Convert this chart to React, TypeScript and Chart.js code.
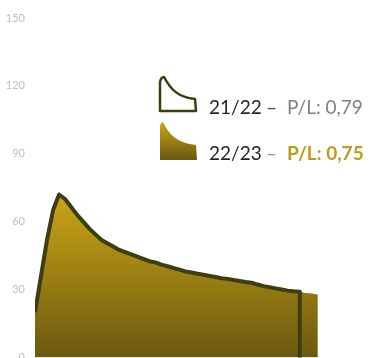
import React, { useEffect, useRef } from 'react';
import { Chart, registerables } from 'chart.js';
Chart.register(...registerables);

// ---- data ----
const yTickValues = [0, 30, 60, 90, 120, 150];
const seasonLabels = ['21/22', '22/23'];
const plLabels = ['P/L: 0,79', 'P/L: 0,75'];
// weekly values, week index = array index
const values2122 = [
  20, 36, 52, 65, 72, 70, 66.5, 63, 60, 57, 54.5, 52, 50.5, 49, 47.5, 46.5, 45.5, 44.5, 43.5, 42.5,
  42, 41, 40.3, 39.5, 38.8, 38, 37.5, 37, 36.5, 36, 35.5, 35, 34.7, 34.2, 33.8, 33.3, 33, 32.2, 31.5, 31,
  30.5, 30, 29.5, 29.2, 29,
];
const closingValue2122 = 0; // season closed: drops to zero on its last week
const values2223 = [
  20, 36, 52, 65, 72, 70, 66.5, 63, 60, 57, 54.5, 52, 50.5, 49, 47.5, 46.5, 45.5, 44.5, 43.5, 42.5,
  42, 41, 40.3, 39.5, 38.8, 38, 37.5, 37, 36.5, 36, 35.5, 35, 34.7, 34.2, 33.8, 33.3, 33, 32.2, 31.5, 31,
  30.5, 30, 29.5, 29.2, 29, 28.5, 28.2, 27.8,
];

const LINE_COLOR = '#3d3d0f';
const GOLD_TOP = '#cba516';
const GOLD_BOTTOM = '#6b5810';

function goldGradient(ctx: CanvasRenderingContext2D, top: number, bottom: number) {
  const g = ctx.createLinearGradient(0, top, 0, bottom);
  g.addColorStop(0, GOLD_TOP);
  g.addColorStop(1, GOLD_BOTTOM);
  return g;
}

const legendPlugin = {
  id: 'customLegend',
  afterDraw(chart: any) {
    const ctx: CanvasRenderingContext2D = chart.ctx;
    ctx.save();
    // icon 1: outline
    ctx.beginPath();
    ctx.moveTo(160, 111);
    ctx.lineTo(160, 82);
    ctx.quadraticCurveTo(161, 77, 164, 77);
    ctx.bezierCurveTo(171, 90, 178, 97, 195, 99);
    ctx.lineTo(196, 111);
    ctx.closePath();
    ctx.lineWidth = 2.5;
    ctx.strokeStyle = LINE_COLOR;
    ctx.lineJoin = 'round';
    ctx.stroke();
    // icon 2: gold filled
    ctx.beginPath();
    ctx.moveTo(160, 160);
    ctx.lineTo(160, 126);
    ctx.quadraticCurveTo(161, 122, 163, 122);
    ctx.bezierCurveTo(170, 136, 178, 143, 196, 145);
    ctx.lineTo(197, 160);
    ctx.closePath();
    ctx.fillStyle = goldGradient(ctx, 122, 160);
    ctx.fill();

    ctx.textBaseline = 'alphabetic';
    ctx.textAlign = 'left';
    const rows = [
      { y: 114, dash: '#385723', pl: '#808080', bold: false },
      { y: 160, dash: '#8e9c80', pl: '#bf9a1b', bold: true },
    ];
    rows.forEach((r, i) => {
      ctx.font = '19px Lato';
      ctx.fillStyle = '#262626';
      ctx.fillText(seasonLabels[i], 209, r.y);
      ctx.fillStyle = r.dash;
      ctx.fillText('–', 266, r.y);
      ctx.font = (r.bold ? 'bold ' : '') + '19px Lato';
      ctx.fillStyle = r.pl;
      ctx.fillText(plLabels[i], 287, r.y);
    });
    ctx.restore();
  },
};

export default function App() {
  const ref = useRef<HTMLCanvasElement>(null);
  useEffect(() => {
    document.body.style.margin = '0';
    const last = values2122.length - 1;
    const data2122 = values2122
      .map((v, i) => ({ x: i, y: v }))
      .concat([{ x: last, y: closingValue2122 }]);
    const data2223 = values2223.map((v, i) => ({ x: i, y: v }));
    const chart = new Chart(ref.current!, {
      type: 'line',
      data: {
        datasets: [
          {
            label: seasonLabels[0],
            data: data2122,
            borderColor: LINE_COLOR,
            borderWidth: 4,
            pointRadius: 0,
            tension: 0,
            fill: false,
            borderJoinStyle: 'round',
            order: 0,
          },
          {
            label: seasonLabels[1],
            data: data2223,
            borderWidth: 0,
            borderColor: 'rgba(0,0,0,0)',
            pointRadius: 0,
            tension: 0,
            fill: 'origin',
            order: 1,
            backgroundColor: (c: any) => {
              const ch = c.chart;
              if (!ch.chartArea) return GOLD_TOP;
              return goldGradient(ch.ctx, ch.scales.y.getPixelForValue(72), ch.chartArea.bottom);
            },
          },
        ],
      },
      options: {
        responsive: false,
        animation: false,
        devicePixelRatio: 1,
        layout: { padding: { top: 18, bottom: 8, left: 0, right: 0 } },
        plugins: { legend: { display: false }, tooltip: { enabled: false } },
        scales: {
          x: { type: 'linear', min: 0, max: 56, display: false },
          y: {
            min: 0,
            max: 150,
            afterFit: (s: any) => {
              s.width = 35;
            },
            afterBuildTicks: (s: any) => {
              s.ticks = yTickValues.map((v) => ({ value: v }));
            },
            grid: { display: false, drawTicks: false },
            border: { display: false },
            ticks: {
              padding: 10,
              color: '#bfbfbf',
              font: { family: 'Lato', size: 11 },
            },
          },
        },
      },
      plugins: [legendPlugin],
    } as any);
    return () => chart.destroy();
  }, []);
  return (
    <div style={{ position: 'fixed', left: 0, top: 0, width: 372, height: 358, overflow: 'hidden', background: '#fff' }}>
      <canvas ref={ref} width={372} height={374} style={{ display: 'block' }} />
    </div>
  );
}
